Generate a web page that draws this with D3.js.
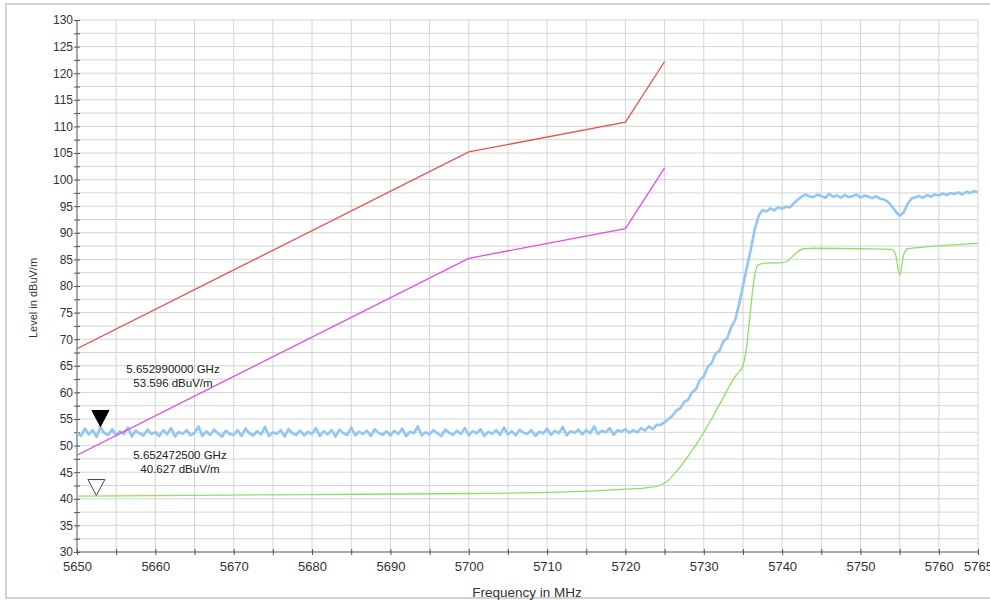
<!DOCTYPE html>
<html>
<head>
<meta charset="utf-8">
<script src="https://cdn.jsdelivr.net/npm/d3@7"></script>
<style>
    body { margin: 0; background: #fff; }
    svg { display: block; font-family: "Liberation Sans", Arial, sans-serif; }
</style>
</head>
<body>
<div class="chart"></div>
<script>
/* limit lines (MHz / dBuV/m) */
const limitFreqs = [5650, 5700, 5720, 5725]
const peakLimit = [68.2, 105.2, 110.8, 122.2]
const avgLimit = [48.2, 85.2, 90.8, 102.2]

/* peak trace, 0.5 MHz steps from 5650 to 5765 */
const peakStart = 5650
const peakStep = 0.5
const peakLevels = [
    52.4, 51.8, 53.2, 52.1, 52.9, 51.6, 53.5, 52.3, 52.0, 53.1, 51.9, 52.7, 52.2, 53.4, 51.7, 52.8, 52.3, 51.9, 53.0, 52.2,
    52.5, 51.8, 52.9, 52.1, 53.3, 51.7, 52.6, 52.2, 52.9, 51.9, 52.4, 53.6, 51.8, 52.7, 52.0, 53.0, 52.3, 51.7, 52.8, 52.2,
    52.0, 52.9, 51.8, 53.2, 52.3, 51.9, 52.7, 52.1, 53.5, 51.8, 52.5, 52.2, 52.9, 51.7, 53.1, 52.3, 52.0, 52.8, 51.9, 52.6,
    52.2, 53.3, 51.8, 52.7, 52.1, 52.9, 51.7, 53.0, 52.3, 52.0, 53.4, 51.9, 52.6, 52.2, 52.8, 51.8, 53.1, 52.4, 52.0, 52.7,
    51.9, 52.8, 52.2, 53.2, 51.8, 52.6, 52.3, 53.6, 51.9, 52.5, 52.1, 52.9, 52.3, 51.8, 53.0, 52.4, 52.0, 52.8, 52.2, 53.3,
    51.9, 52.7, 52.3, 53.1, 51.8, 52.6, 52.2, 52.9, 52.0, 53.4, 52.1, 52.7, 51.9, 53.0, 52.4, 52.2, 52.9, 51.8, 52.6, 52.3,
    53.2, 52.0, 52.8, 52.3, 53.5, 51.9, 52.7, 52.4, 53.0, 52.1, 52.9, 52.3, 53.6, 52.2, 52.8, 52.5, 53.3, 52.0, 52.9, 52.6,
    53.1, 52.4, 52.9, 52.5, 53.3, 52.8, 53.6, 53.1, 53.9, 53.9, 54.4, 55.0, 55.6, 56.6, 57.0, 58.2, 58.6, 60.0, 60.6, 62.3,
    63.0, 64.8, 65.5, 67.3, 67.8, 69.6, 70.2, 72.3, 73.6, 76.5, 80.0, 83.5, 86.8, 90.6, 93.2, 94.3, 94.0, 94.6, 94.2, 94.8,
    94.5, 94.9, 94.8, 95.6, 96.2, 96.8, 97.2, 96.8, 96.7, 97.2, 96.9, 96.6, 97.3, 96.8, 97.0, 96.6, 97.1, 96.7, 96.9, 97.2,
    96.6, 97.0, 96.8, 96.5, 96.9, 96.4, 96.3, 95.8, 95.0, 94.0, 93.2, 93.8, 95.4, 96.4, 96.7, 96.9, 96.6, 97.1, 96.8, 97.2,
    97.0, 97.4, 97.1, 97.5, 97.3, 97.6, 97.2, 97.7, 97.5, 97.8, 97.6
]

/* average trace */
const avgFreqs = [5650, 5660, 5680, 5700, 5710, 5716, 5720, 5723, 5724.5, 5725.5, 5726, 5727, 5728, 5730, 5732, 5734, 5735,
    5735.5, 5736, 5736.5, 5737, 5738, 5740, 5740.6, 5741.5, 5742.7, 5744, 5750, 5754, 5754.5, 5755, 5755.5, 5756, 5758, 5765]
const avgLevels = [40.5, 40.6, 40.8, 41.0, 41.2, 41.5, 41.8, 42.1, 42.6, 43.5, 44.3, 46.0, 48.0, 52.5, 57.7, 63.0, 65.0,
    69.0, 76.0, 82.0, 84.0, 84.3, 84.4, 84.6, 85.8, 87.0, 87.1, 87.0, 86.9, 85.8, 82.0, 85.8, 87.0, 87.3, 88.0]

/* markers */
const markerFreqs = [5652.99, 5652.4725]
const markerLevels = [53.596, 40.627]
const markerLabels = [['5.652990000 GHz', '53.596 dBuV/m'], ['5.652472500 GHz', '40.627 dBuV/m']]

const xTickLabels = [5650, 5660, 5670, 5680, 5690, 5700, 5710, 5720, 5730, 5740, 5750, 5760, 5765]
const yTickLabels = [30, 35, 40, 45, 50, 55, 60, 65, 70, 75, 80, 85, 90, 95, 100, 105, 110, 115, 120, 125, 130]

const width = 990
const height = 600
const plot = { left: 77, right: 978, top: 20, bottom: 552 }

const svg = d3.select('.chart')
    .append('svg')
    .attr('width', width)
    .attr('height', height)

const x = d3.scaleLinear().domain([5650, 5765]).range([plot.left, plot.right])
const y = d3.scaleLinear().domain([30, 130]).range([plot.bottom, plot.top])

// outer frame
svg.append('rect')
    .attr('x', 6).attr('y', 4)
    .attr('width', width).attr('height', 594)
    .style('fill', 'none')
    .style('stroke', '#d2d2d2')
    .style('stroke-width', 2)

// grid
const gridX = d3.range(5655, 5766, 5)
const gridY = d3.range(32.5, 130.1, 2.5)
svg.append('g').selectAll('line').data(gridX).join('line')
    .attr('x1', d => x(d)).attr('x2', d => x(d))
    .attr('y1', plot.top).attr('y2', plot.bottom)
    .style('stroke', '#d5d5d5')
svg.append('g').selectAll('line').data(gridY).join('line')
    .attr('x1', plot.left).attr('x2', plot.right)
    .attr('y1', d => y(d)).attr('y2', d => y(d))
    .style('stroke', '#d5d5d5')

// y axis
const yAxis = svg.append('g')
    .attr('transform', `translate(${plot.left},0)`)
    .call(d3.axisLeft(y).tickValues(d3.range(30, 130.1, 2.5)).tickSize(3)
        .tickFormat(d => yTickLabels.includes(d) ? d : ''))
yAxis.select('.domain').attr('d', `M0,${plot.top}V${plot.bottom}`).style('stroke', '#555')
yAxis.selectAll('.tick line').attr('x1', 3).attr('x2', -3).style('stroke', '#555')
yAxis.selectAll('.tick text').attr('x', -4).style('font-size', '12px').style('fill', '#333')
    .style('font-family', '"Liberation Sans", Arial, sans-serif')

// x axis
const xAxis = svg.append('g')
    .attr('transform', `translate(0,${plot.bottom})`)
    .call(d3.axisBottom(x).tickValues(d3.range(5650, 5765.1, 5)).tickSize(3)
        .tickFormat(d => xTickLabels.includes(d) ? d : ''))
xAxis.select('.domain').attr('d', `M${plot.left},0H${plot.right}`).style('stroke', '#555')
xAxis.selectAll('.tick line').attr('y1', -3).attr('y2', 3).style('stroke', '#555')
xAxis.selectAll('.tick text').attr('y', 10).style('font-size', '13px').style('fill', '#333')
    .style('font-family', '"Liberation Sans", Arial, sans-serif')

// axis titles
svg.append('text')
    .attr('transform', 'translate(37,298) rotate(-90)')
    .attr('text-anchor', 'middle')
    .style('font-size', '11px')
    .style('fill', '#333')
    .text('Level in dBuV/m')
svg.append('text')
    .attr('x', 527).attr('y', 597)
    .attr('text-anchor', 'middle')
    .style('font-size', '13.5px')
    .style('fill', '#333')
    .text('Frequency in MHz')

svg.append('clipPath').attr('id', 'plotclip')
    .append('rect')
    .attr('x', plot.left).attr('y', plot.top)
    .attr('width', plot.right - plot.left).attr('height', plot.bottom - plot.top)

const line = d3.line().x(d => x(d[0])).y(d => y(d[1]))
const layer = svg.append('g').attr('clip-path', 'url(#plotclip)')

// average trace
layer.append('path')
    .datum(avgFreqs.map((f, i) => [f, avgLevels[i]]))
    .attr('d', d3.line().x(d => x(d[0])).y(d => y(d[1])).curve(d3.curveMonotoneX))
    .style('fill', 'none')
    .style('stroke', '#8ee065')
    .style('stroke-width', 1.3)

// peak trace
layer.append('path')
    .datum(peakLevels.map((v, i) => [peakStart + i * peakStep, v]))
    .attr('d', line)
    .style('fill', 'none')
    .style('stroke', '#92c6f4')
    .style('stroke-width', 2.6)
    .style('stroke-linejoin', 'round')

// limit lines
layer.append('path')
    .datum(limitFreqs.map((f, i) => [f, avgLimit[i]]))
    .attr('d', line)
    .style('fill', 'none')
    .style('stroke', '#e04fe6')
    .style('stroke-width', 1.3)
layer.append('path')
    .datum(limitFreqs.map((f, i) => [f, peakLimit[i]]))
    .attr('d', line)
    .style('fill', 'none')
    .style('stroke', '#e8524f')
    .style('stroke-width', 1.3)

// markers
markerFreqs.forEach((f, i) => {
    const mx = x(f)
    const my = y(markerLevels[i])
    svg.append('path')
        .attr('d', `M${mx},${my}L${mx - 8.5},${my - 16}L${mx + 8.5},${my - 16}Z`)
        .style('fill', i === 0 ? '#000' : '#fff')
        .style('stroke', i === 0 ? '#000' : '#444')
        .style('stroke-width', 1)
})
const labelPos = [[173, 369], [180, 455]]
markerLabels.forEach((lines, i) => {
    const t = svg.append('text')
        .attr('text-anchor', 'middle')
        .style('font-size', '11.5px')
        .style('fill', '#222')
    lines.forEach((s, j) => {
        t.append('tspan')
            .attr('x', labelPos[i][0])
            .attr('y', labelPos[i][1] + j * 14 + 4)
            .text(s)
    })
})
</script>
</body>
</html>
